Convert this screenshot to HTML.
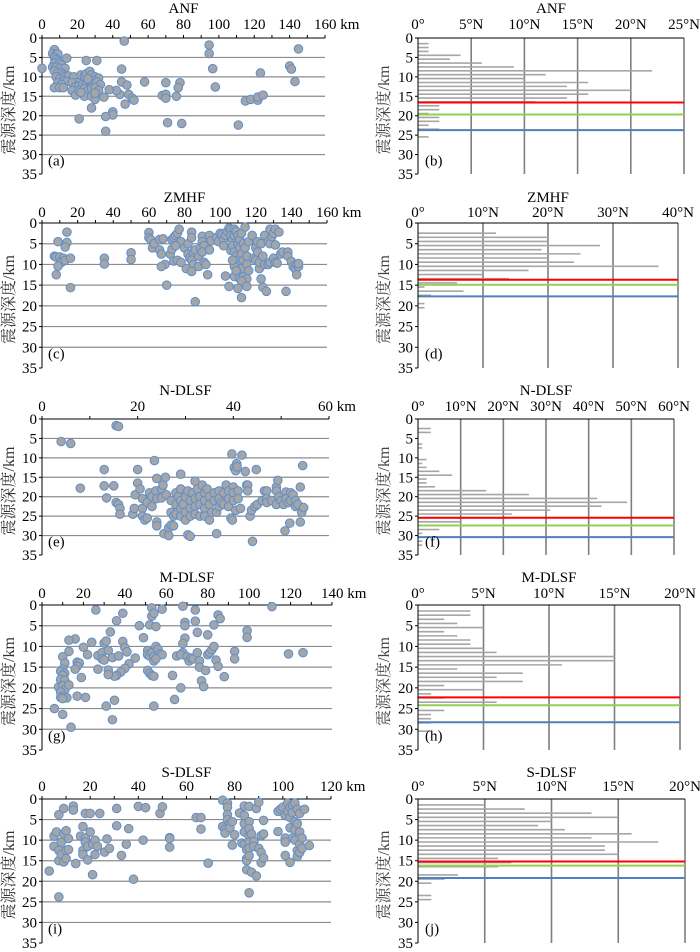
<!DOCTYPE html>
<html><head><meta charset="utf-8">
<style>
html,body{margin:0;padding:0;background:#fff;}
svg{display:block;}
svg text{font-family:"Liberation Serif","Noto Serif CJK SC",serif;}
</style></head>
<body>
<svg id="fig" width="700" height="952" viewBox="0 0 700 952" xmlns="http://www.w3.org/2000/svg"></svg>
<script>
// ---------- data ----------
const titles = ["ANF","ZMHF","N-DLSF","M-DLSF","S-DLSF"];
const scatterXMax = [160,160,60,140,120];
const scatterXStep = [20,20,20,20,20];
const histXMax = [25,40,60,20,20];
const histXStep = [5,10,10,5,5];
const scatterLetters = ["(a)","(c)","(e)","(g)","(i)"];
const histLetters = ["(b)","(d)","(f)","(h)","(j)"];
const depthTicks = [0,5,10,15,20,25,30,35];

const anfPts = [[0,7.8],[46.5,0.8],[94.5,1.8],[94.5,4],[96.5,7.9],[98,12.6],[145,2.8],[140,7.2],[141,8],[143,11.2],[123.5,9],[111,22.4],[115,16.2],[118,15.8],[122,16],[122,15.2],[125,14.7],[78,11.5],[70,11.5],[77,12.8],[68,14.8],[70,14.5],[70,15.5],[76,15],[71,21.8],[79,22],[58,11.3],[45,8],[45,11.3],[48,12.1],[49,14.5],[51,15.5],[52,16],[47,17],[44,14.5],[42,13.5],[38,13.3],[40,19],[40,19.8],[36,20.2],[36,24],[35,15.2],[21,20.8],[28,18],[25,5.8],[31,5.8],[7,3],[6,4],[8,4.2],[9,4.1],[7,5],[8,5.5],[9,6],[7,6.5],[10,6.5],[11,7],[6,7.5],[8,7.5],[10,7.8],[13,7.8],[14,5.2],[7,8.5],[9,9],[11,9],[12,9.5],[8,10],[10,10.5],[13,10],[15,9.8],[12,11],[14,11.2],[9,11.5],[11,12],[7,12.8],[10,12.8],[12,12.8],[18,10],[20,11.5],[22,9.5],[24,9.8],[25,9.2],[27,8.6],[28,9.5],[30,10],[32,10.3],[17,11.5],[19,12.5],[21,12.3],[23,12],[25,12],[27,11],[29,11],[31,11.3],[33,12],[17,13.5],[19,14.7],[21,13.6],[24,13],[26,13.5],[28,13],[30,12.8],[32,13.5],[24,15],[28,15],[30,15.8],[30,14.2],[26,10.5],[22,14]];
const zmhfPts = [[14,2.2],[9,4.5],[14,4.7],[13,5.8],[7,8],[8,8.2],[10,8.2],[12,8.5],[11,9.5],[13,9],[16,8.5],[9,10.4],[8,12.5],[16,15.6],[35,8.5],[35,9.9],[50,7.2],[50,8.8],[60,2.3],[60,3.5],[61,4],[62,6],[63,5],[66,4],[66,6.5],[67,7.5],[68,3.8],[69,10],[67,10.5],[70,15],[72,7.5],[73,6.3],[73,4],[74,3.5],[75,3],[76,2.5],[77,1.5],[78,4.5],[75,5.5],[74,9.2],[76,9],[78,9.5],[80,6],[82,5],[82,7.5],[83,8.5],[84,2.2],[84,3.5],[85,7],[84,9],[85,10],[81,11],[84,11.7],[86,6.5],[88,8],[88,10.5],[89,6],[90,3.2],[90,4.5],[91,5.5],[90,7],[91,9.5],[92,10],[93,12.5],[94,3],[94,6.5],[95,4.3],[86,19],[98,3.5],[99,4.5],[100,2.5],[101,2.8],[102,4],[102,5.5],[103,3],[104,2],[105,1.2],[106,1.5],[106,3],[106,6.6],[107,4],[107,5.5],[108,1.5],[108,3],[108,7],[109,2],[109,8],[110,3],[110,5],[110,9],[111,4],[111,6],[111,10],[112,2.5],[112,7.5],[112,11],[113,5],[113,9],[114,1],[114,6],[115,8],[115,10],[116,4.5],[116,11.5],[110,12.5],[108,12.9],[111,13.4],[113,13],[115,13.5],[112,14],[103,12.8],[105,15.3],[110,15.8],[115,15.3],[112,18],[108,10.5],[109,11.5],[107,9],[118,3],[119,8.5],[120,9],[120,6],[121,4.5],[121,7],[122,11],[122,9.5],[123,5],[123,13.5],[124,8],[125,10],[125,3],[124,15.5],[126,16.5],[127,4.5],[127,10],[128,1.5],[128,9.5],[128,5],[129,3.3],[130,8.5],[130,2.5],[131,1.5],[131,9.5],[131,5.3],[132,9.7],[133,2.2],[134,7.5],[135,7],[137,16.5],[138,7],[138,8],[140,9.3],[141,10.5],[142,11],[143,10],[144,10.5],[143,12.5],[144,9.8]];
const ndlsfPts = [[4,5.8],[6,6.3],[8,17.8],[15.5,1.7],[16,1.9],[13,13],[13,17.2],[13.5,20.3],[15,17.2],[15.5,21.5],[16,22],[16.3,23],[16.3,24.5],[19,24.5],[19.3,23],[19.5,19.5],[20,13],[20,16.5],[20.5,18],[21,20.5],[21,23],[21,25],[21.5,26],[22,21.5],[22,25.5],[22.5,19],[23,20],[23,22.5],[23.5,10.7],[24,15.3],[23.8,18.5],[24,26.5],[24,27.5],[24,20.5],[25,20.3],[25,18],[25.3,17],[25.5,29.5],[25.8,15],[26,19.5],[26.5,28],[26.5,30],[27,21],[27,24],[27,27.3],[27.5,25],[27.5,27.5],[28,19],[28,22],[28,24.5],[28.5,20],[29,14.2],[29,18],[29,21],[29,23],[29,25],[29.5,22],[30,20],[30,24],[30,26],[30.5,29.8],[30.5,18.5],[31,21],[31,30.2],[31,23],[31,25],[31.5,19],[32,16],[32,20.5],[32,22.5],[32,24.5],[32.5,18],[33,20],[33,22],[33,25],[33.5,17],[34,19],[34,21],[34,23],[34,25],[34.5,18],[35,20],[35,22],[35,26],[35.5,24],[36,19],[36,21],[36.5,29.5],[36.5,24],[37,18.5],[37,20.5],[37,22.5],[37.5,21.5],[38,19],[38,22],[38.5,17],[39,18.5],[39,20.5],[39,22.5],[39.5,25.5],[39.7,9],[39.8,26],[40,17.5],[40,19],[40,21],[40.2,12.5],[40.5,13.3],[40.7,11.5],[40.8,12.3],[40.5,23.5],[41,18.5],[41,20.5],[41.5,23],[41.8,9.3],[42.5,13.5],[42.8,17],[43,17],[43,18.5],[43.5,25],[43.8,23.5],[44,31.5],[44.5,22.5],[44.8,13],[45,22],[46,21],[46.5,18.5],[47,18.5],[47,20.5],[47,21.5],[48,21],[49,17.5],[49,18.5],[49,22],[49.3,15.8],[49.5,20],[50,21],[50.5,22],[50.8,28.8],[51,18.8],[51,20.5],[51.5,21.5],[51.8,26.8],[52,19],[52,21],[52.5,19.5],[53,21],[53,22.5],[53.5,22],[54,26.5],[54,17.5],[54.3,24],[54.5,12],[54.7,22.8]];
const mdlsfPts = [[26,1.2],[39,2],[36,3.8],[33,6.5],[16,8.2],[13,8.5],[24,9],[30,9.2],[31,8.7],[39,8.8],[40,10.3],[20,10.2],[13,11.2],[10,12.5],[22,12],[27,12.2],[29,11.5],[29,13],[30,13.3],[32,11],[34,12.7],[37,12.3],[41,11.3],[45,12.8],[42,14.2],[40,15.3],[38,16.2],[36,17],[35,17.2],[32,15.7],[32,16.8],[27,15.5],[17,13.8],[18,14],[17,14.8],[16,15.5],[19,17.5],[11,14],[10,15.5],[9,16],[11,16.5],[10,17],[9,18],[11,18.2],[8,19.8],[10,19.5],[11,20.5],[13,19.3],[9,21],[10,22],[9,22.3],[12,22.4],[17,22],[21,22.3],[10,22.6],[6,25],[10,26.4],[14,29.5],[31,24.4],[35,23],[34,27.7],[47,5],[49,7.9],[52,4.8],[53,0.7],[53,2.7],[54,2],[55,5.2],[51,11],[51,12],[52,12.3],[53,11.5],[54,12.5],[55,10],[56,10.7],[57,11.8],[58,12],[54,13.5],[55,13],[51,15.8],[52,16.5],[53,17],[54,17.2],[54,24.4],[58,1],[68,0.3],[69,4.2],[69,5],[69,8],[68,9.3],[68,11.5],[65,12.3],[67,12],[70,12.5],[71,13.5],[72,12.8],[73,13],[74,1.2],[74,3.9],[75,6.6],[75,11.5],[76,13.5],[76,15],[77,18.3],[78,19.7],[63,17],[64,22.8],[67,20],[79,15.8],[80,12],[80,7.2],[81,11.5],[82,10.8],[83,4.8],[83,10],[84,13.3],[85,2.4],[85,14.8],[86,3.3],[88,17.3],[93,11.2],[93,13],[99,6.2],[99,7.8],[111,0.4],[119,11.8],[126,11.5]];
const sdlsfPts = [[3,17.5],[5,9],[5,11.5],[6,8],[7,12.5],[7,15],[7,23.8],[7,3.8],[8,10.5],[8,13.5],[9,2.3],[9,8.5],[9,15.3],[10,7.7],[10,12.5],[10,14.5],[11,9.6],[11,12.3],[13,1.7],[13,2.7],[14,15.7],[16,9],[17,6.7],[17,12.5],[17,13.5],[18,3.5],[18,9.5],[18,10.5],[19,11.5],[19,14.8],[20,3.5],[20,8],[21,11],[21,18.4],[22,10],[22,13.5],[23,11.5],[24,3.5],[26,12.9],[27,9.7],[28,12],[31,2.3],[31,6.5],[33,13.7],[35,11],[36,7.2],[38,19.5],[40,1.8],[42,10],[43,2.1],[49,3.5],[50,1.9],[53,9.4],[53,9.6],[53,11.7],[64,4.5],[66,4.5],[66,7.3],[69,15.6],[75,0.3],[75,6.7],[76,7.4],[76,8.3],[77,1],[77,2],[77,3.8],[77,5],[78,6],[78,7],[79,5.5],[79,11.2],[80,8.7],[82,3.4],[83,10.7],[84,1.7],[84,4],[84,6],[84,8],[84,11],[85,12.3],[85,14.5],[85,15],[85,17.2],[86,1.8],[86,5.5],[86,7.2],[86,9],[86,10.5],[86,12],[86,13.8],[86,22.8],[87,17.8],[87,8.5],[88,10.3],[88,11.5],[89,2.3],[89,18.7],[90,0.8],[90,12],[91,13],[91,8.9],[91,15.5],[92,8.5],[92,5.2],[92,14.3],[98,3],[98,7.9],[99,2.5],[100,2],[101,4],[101,9.5],[101,10.5],[101,13.7],[102,1],[102,3],[103,2],[103,4.5],[103,7],[103,15.4],[104,1.5],[104,3.3],[104,9.5],[105,1],[105,5.5],[105,7.5],[105,10],[106,12.5],[106,14],[106,6],[106,2.5],[107,3.5],[107,8],[107,11],[107,13],[108,9.5],[108,12],[109,2.5],[111,11.3]];
const scatterData = [anfPts,zmhfPts,ndlsfPts,mdlsfPts,sdlsfPts];

// histogram counts per 1-km depth bin (index = km)
const anfCounts = [0,1,1,1,4,3,6,9,22,12,10,16,14,20,16,14,11,2,2,1,2,2,1,2,0,1];
const zmhfCounts = [0,0,12,20,20,28,19,25,20,24,37,17,10,14,6,1,7,2,0,1,1];
const ndlsfCounts = [0,0,3,3,0,0,1,1,0,0,2,1,2,5,8,2,2,4,16,26,42,49,43,31,22,21,10,4,5,1,0,1,1];
const mdlsfCounts = [0,4,4,2,3,5,2,3,4,4,5,6,15,15,11,3,8,6,8,2,5,1,2,6,0,2,1,1,1,0,1];
const sdlsfCounts = [0,5,8,13,15,10,9,11,16,13,18,14,14,15,6,7,6,0,3,2,1,0,0,1,1];
const histData = [anfCounts,zmhfCounts,ndlsfCounts,mdlsfCounts,sdlsfCounts];
// boundary depths: red, green, blue
const redDepth = [16.6,13.7,25.4,22.3,15.2];
const greenDepth = [19.7,14.9,27.4,24.2,16.2];
const blueDepth = [23.7,17.7,30.4,28.3,19.2];

// ---------- layout ----------
const rowY0 = [38,223,419,605,799];
const rowY35 = [174,368,555,750,943];
const titleY = [13,202,395,582,777];
const tickLabY = [29,217,411,598,791];
const sL = 42, sRight = [325,327,329,332,331];
const hL = 418, hRight = [684,678,674,680,685];
const FS = 15;

const svg = document.getElementById('fig');
const NS = 'http://www.w3.org/2000/svg';
function mk(tag, attrs, parent){
  const e = document.createElementNS(NS, tag);
  for (const k in attrs) e.setAttribute(k, attrs[k]);
  (parent||svg).appendChild(e);
  return e;
}
function txt(s, attrs, parent){ const e = mk('text', attrs, parent); e.textContent = s; return e; }

for (let r=0; r<5; r++){
  const y0=rowY0[r], y35=rowY35[r];
  const yS = d => y0 + (y35-y0)*d/35;

  // ---------- scatter panel ----------
  const gS = mk('g',{});
  
  
  const xR = sRight[r], xMax = scatterXMax[r];
  const xS = v => sL + (xR-sL)*v/xMax;
  for (const d of depthTicks){
    if (d===0||d===35) continue;
    const gl = mk('line',{x1:sL,x2:xR,y1:yS(d),y2:yS(d),stroke:'#8c8c8c','stroke-width':1.2},gS);
    
    
  }
  mk('line',{x1:sL,x2:xR,y1:y0,y2:y0,stroke:'#000','stroke-width':1},gS);
  mk('line',{x1:sL,x2:sL,y1:y0,y2:y35,stroke:'#000','stroke-width':1},gS);
  for (let v=0; v<=xMax+1e-9; v+=scatterXStep[r]/2){
    mk('line',{x1:xS(v),x2:xS(v),y1:y0,y2:y0-3,stroke:'#000','stroke-width':1},gS);
  }
  for (let v=0; v<=xMax+1e-9; v+=scatterXStep[r]){
    const lab = (v===xMax) ? v+' km' : String(v);
    const t = txt(lab,{x:xS(v),y:tickLabY[r],'font-size':FS,'text-anchor':(v===xMax?'start':'middle'),dx:(v===xMax?-11:0)},gS);
    
    
  }
  for (const d of depthTicks){
    mk('line',{x1:sL-3,x2:sL,y1:yS(d),y2:yS(d),stroke:'#000','stroke-width':1},gS);
    const t = txt(String(d),{x:sL-5,y:yS(d)+5,'font-size':FS,'text-anchor':'end'},gS);
    
    
  }
  const tt = txt(titles[r],{x:(sL+xR)/2,y:titleY[r],'font-size':FS,'text-anchor':'middle'},gS);
  
  
  const yl = txt('震源深度/km',{x:0,y:0,'font-size':16,'text-anchor':'middle',fill:'#333',transform:`translate(14,${(y0+y35)/2+4}) rotate(-90)`},gS);
  
  
  const lt = txt(scatterLetters[r],{x:48,y:yS(31.5)+5,'font-size':FS},gS);
  
  
  for (const p of scatterData[r]){
    const c = mk('circle',{cx:xS(p[0]),cy:yS(p[1]),r:4.3,fill:'#a5a5a5',stroke:'#5b8fd0','stroke-width':1},gS);
    
    
  }

  // ---------- histogram panel ----------
  const gH = mk('g',{});
  
  
  const hR = hRight[r], hMax = histXMax[r];
  const xH = v => hL + (hR-hL)*v/hMax;
  for (let v=histXStep[r]; v<=hMax+1e-9; v+=histXStep[r]){
    const gl = mk('line',{x1:xH(v),x2:xH(v),y1:y0,y2:y35,stroke:'#7f7f7f','stroke-width':1.6},gH);
    
    
  }
  const counts = histData[r];
  for (let k=0; k<counts.length; k++){
    if (!counts[k]) continue;
    const b = mk('line',{x1:hL,x2:xH(counts[k]),y1:yS(k+0.45),y2:yS(k+0.45),stroke:'#a6a6a6','stroke-width':1.6},gH);
    
    
  }
  const lines = [[redDepth[r],'#ff0000','red-boundary-line'],[greenDepth[r],'#92d050','green-boundary-line'],[blueDepth[r],'#4f81bd','blue-boundary-line']];
  for (const L of lines){
    const l = mk('line',{x1:hL,x2:hR,y1:yS(L[0]),y2:yS(L[0]),stroke:L[1],'stroke-width':2},gH);
    
    
  }
  mk('line',{x1:hL,x2:hR,y1:y0,y2:y0,stroke:'#000','stroke-width':1},gH);
  mk('line',{x1:hL,x2:hL,y1:y0,y2:y35,stroke:'#000','stroke-width':1},gH);
  for (let v=0; v<=hMax+1e-9; v+=histXStep[r]){
    const lab = v===0 ? '0°' : v+'°N';
    const t = txt(lab,{x:xH(v),y:tickLabY[r],'font-size':FS,'text-anchor':'middle'},gH);
    
    
  }
  for (const d of depthTicks){
    mk('line',{x1:hL-3,x2:hL,y1:yS(d),y2:yS(d),stroke:'#000','stroke-width':1},gH);
    const t = txt(String(d),{x:hL-5,y:yS(d)+5,'font-size':FS,'text-anchor':'end'},gH);
    
    
  }
  const ht = txt(titles[r],{x:(hL+hR)/2,y:titleY[r],'font-size':FS,'text-anchor':'middle'},gH);
  
  
  const hyl = txt('震源深度/km',{x:0,y:0,'font-size':16,'text-anchor':'middle',fill:'#444',transform:`translate(389,${(y0+y35)/2+4}) rotate(-90)`},gH);
  
  
  const hlt = txt(histLetters[r],{x:425,y:yS(31.5)+5,'font-size':FS},gH);
  
  
}
</script>
</body></html>
